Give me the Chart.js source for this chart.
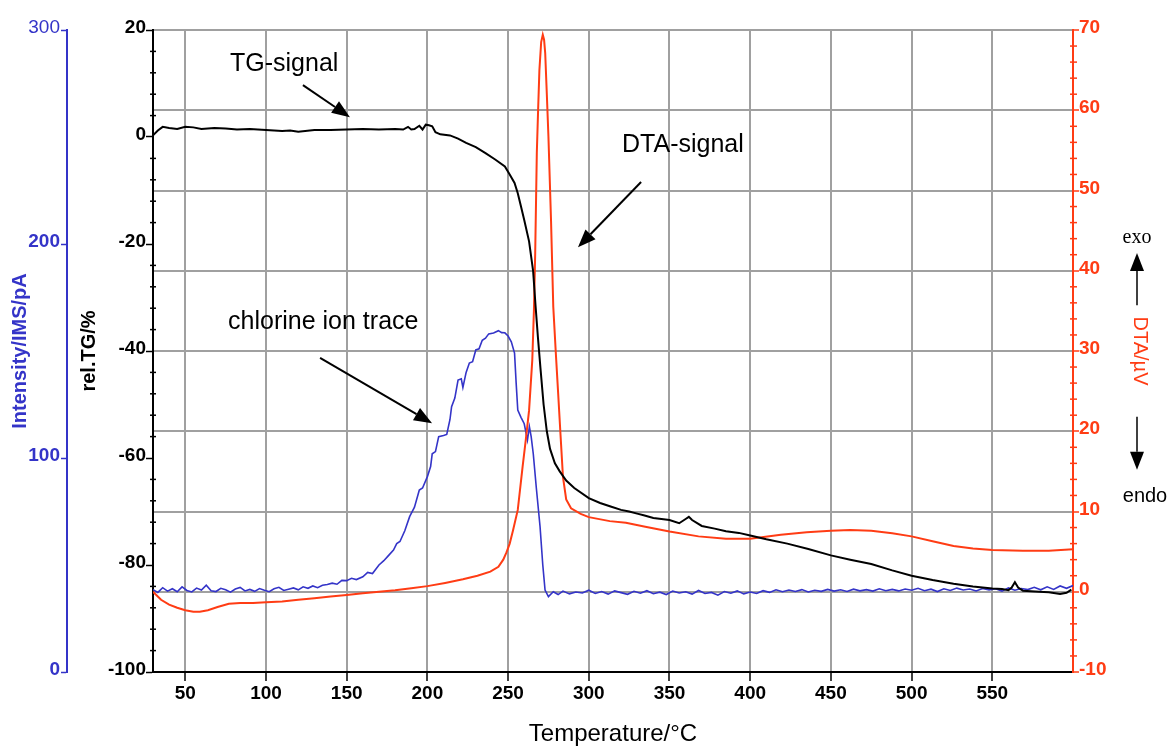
<!DOCTYPE html>
<html>
<head>
<meta charset="utf-8">
<script src="https://cdn.jsdelivr.net/npm/chart.js@4.4.0/dist/chart.umd.min.js"></script>
<style>
  body { margin: 0; background: #fff; }
  #wrap { position: relative; width: 1171px; height: 746px; }
</style>
</head>
<body>
<div id="wrap"><canvas id="taChart"></canvas></div>
<script>
// TG signal (rel.TG/%)
const tgTemp = [30, 33, 36, 40, 45, 50, 55, 60, 68, 75,
  82, 90, 100, 110, 115, 120, 130, 140, 150, 160,
  170, 180, 185, 188, 190, 192, 195, 197, 199, 201,
  203, 205, 208, 214, 219, 224, 230, 236, 242, 248,
  251, 254, 256, 258, 260, 263, 265.5, 267, 268.5, 270,
  272, 274, 276, 279, 282, 286, 291, 300, 307, 314,
  320, 325, 330, 334, 340, 345, 350, 356, 360, 362,
  364, 370, 378, 385, 393, 400, 410, 423, 436, 450,
  462, 475, 488, 500, 513, 526, 538, 550, 556, 560,
  562, 564, 566, 569, 574, 579, 585, 592, 596, 599];
const tgValue = [0.3, 1.2, 1.9, 1.7, 1.5, 1.9, 1.8, 1.5, 1.7, 1.6,
  1.4, 1.5, 1.3, 1.1, 1.2, 1.0, 1.3, 1.3, 1.4, 1.5,
  1.4, 1.5, 1.4, 1.9, 1.4, 1.5, 2.1, 1.4, 2.3, 2.2,
  2.0, 0.9, 0.5, 0.3, -0.3, -1.1, -1.9, -3.0, -4.2, -5.5,
  -7.0, -8.6, -10.5, -13, -15.5, -19.5, -25, -31.5, -37.5, -43,
  -50, -55, -58.3, -61, -62.5, -64.2, -65.6, -67.5, -68.4, -69.1,
  -69.7, -70, -70.4, -70.7, -71.2, -71.4, -71.6, -72.2, -71.4, -71.0,
  -71.6, -72.7, -73.2, -73.7, -74.0, -74.5, -75.2, -76, -77, -78.2,
  -79, -79.8, -81, -82, -82.8, -83.5, -84, -84.4, -84.5, -84.7,
  -84.2, -83.2, -84.2, -84.8, -84.9, -85.0, -85.1, -85.4, -85.2, -84.6];

// DTA signal (µV)
const dtaTemp = [30, 35, 40, 45, 50, 55, 59, 64, 70, 77,
  84, 92, 100, 110, 120, 130, 140, 150, 160, 170,
  180, 190, 200, 211, 222, 231, 239, 244, 247, 249,
  251, 253, 256, 259, 261, 263, 265, 266, 266.8, 267.8,
  268.6, 269.4, 270.5, 271.5, 272.3, 273, 274, 275, 276.6, 278,
  279.5, 281, 282.5, 284, 286, 289, 295, 300, 313, 323,
  335, 350, 368, 385, 400, 419, 435, 450, 462, 475,
  488, 500, 513, 526, 538, 550, 569, 585, 600];
const dtaValue = [0, -1.0, -1.6, -2.0, -2.3, -2.5, -2.5, -2.3, -1.9, -1.5,
  -1.4, -1.4, -1.3, -1.2, -1.0, -0.8, -0.6, -0.4, -0.2, 0.0,
  0.2, 0.45, 0.7, 1.1, 1.55, 2.0, 2.5, 3.1, 4.0, 4.9,
  6.0, 7.6, 10.2, 15.6, 19, 22.6, 28.9, 35, 42.2, 54.7,
  60, 65, 68.5, 69.4, 68.8, 67.1, 62, 56.7, 46.3, 35.5,
  30, 24.8, 19.5, 14.3, 11.5, 10.4, 9.7, 9.3, 8.8, 8.6,
  8.1, 7.5, 6.9, 6.6, 6.6, 7.1, 7.4, 7.6, 7.7, 7.6,
  7.3, 6.9, 6.3, 5.7, 5.4, 5.2, 5.1, 5.1, 5.3];

// chlorine ion trace (Intensity/IMS/pA)
const imsTemp = [30, 33, 36, 39, 42, 45, 48, 51, 54, 57,
  60, 63, 66, 69, 72, 75, 78, 81, 84, 87,
  90, 93, 96, 99, 102, 105, 108, 111, 114, 117,
  120, 123, 126, 129, 132, 135, 138,
  141, 144, 147, 150, 153, 156, 160, 163, 166, 170,
  173, 176, 179, 181, 183, 186, 189, 192, 195, 197,
  200, 202, 203, 205, 207, 210, 212, 214, 215, 217,
  219, 221, 222, 224, 226, 228, 230, 232, 234, 236,
  238, 241, 244, 246, 248, 250, 252, 254, 255, 256,
  258, 260, 262, 263.2, 264.3, 265.6, 267.5, 269.8, 271.5, 272.9,
  275, 278, 281,
  284, 288, 292, 296, 300, 304, 308, 312, 316, 320,
  324, 328, 332, 336, 340, 344, 348, 352, 356, 360,
  364, 368, 372, 376, 380, 384, 388, 392, 396, 400,
  404, 408, 412, 416, 420, 424, 428, 432, 436, 440,
  444, 448, 452, 456, 460, 464, 468, 472, 476, 480,
  484, 488, 492, 496, 500, 504, 508, 512, 516, 520,
  524, 528, 532, 536, 540, 544, 548, 552, 556, 560,
  564, 568, 572, 576, 580, 584, 588, 592, 596, 600];
const imsValue = [38.5, 37.2, 39.4, 37.8, 38.9, 37.5, 39.8, 38.1, 37.4, 39.2,
  38.3, 40.6, 38.0, 37.6, 39.1, 38.4, 37.3, 38.8, 39.5, 37.9,
  38.6, 37.7, 39.0, 38.2, 37.5, 38.9, 39.6, 38.1, 38.7, 39.3,
  38.4, 39.8, 39.1, 40.2, 39.4, 40.5, 40.9,
  41.5, 41.0, 42.8, 42.7, 43.8, 43.2, 44.5, 46.5, 46.0, 50,
  52, 54.5, 57, 60, 61, 66, 72.6, 77, 85, 86,
  91.3, 96, 102, 103, 110, 110.5, 111, 118, 124, 128,
  136.4, 137, 133, 140, 144.4, 145, 150.5, 151, 155, 156,
  158, 158.4, 159.5, 158.6, 158.5, 157, 154.3, 149, 135, 122.4,
  119, 116, 108.4, 114.6, 110, 102, 86, 68, 50, 38.3,
  35.2, 37.5, 36.2,
  37.8, 36.5, 37.4, 36.9, 38.2, 36.7, 37.6, 36.4, 37.9, 37.1,
  36.3, 37.7, 36.8, 38.0, 36.6, 37.3, 36.2, 37.8, 36.9, 37.5,
  36.4, 38.1, 36.7, 37.2, 35.9, 37.6, 36.8, 37.9, 36.5, 37.4,
  36.7, 38.0, 37.2, 38.4, 37.5, 38.3, 37.6, 38.5, 37.4, 38.2,
  37.7, 38.6, 37.8, 38.4, 37.6, 38.7, 37.9, 38.5, 37.8, 38.9,
  38.0, 38.6, 37.9, 38.8, 38.2, 39.1, 38.0, 38.7, 37.6, 38.9,
  38.1, 39.2, 38.3, 38.8, 37.9, 39.0, 38.4, 38.9, 37.8, 39.3,
  38.2, 39.0, 38.5, 39.6, 38.4, 39.8, 38.6, 40.2, 39.1, 40.4];

// tick values
const xTickValues = [50, 100, 150, 200, 250, 300, 350, 400, 450, 500, 550];
const tgTickValues = [-100, -80, -60, -40, -20, 0, 20];
const dtaTickValues = [-10, 0, 10, 20, 30, 40, 50, 60, 70];
const imsTickValues = [0, 100, 200, 300];

// text notes with arrows, in (temperature, rel.TG) units
const notes = [
  { text: 'TG-signal', x: 77.7, y: 13.6, from: [122.9, 9.7], to: [152, 3.7] },
  { text: 'DTA-signal', x: 320.6, y: -1.5, from: [332.4, -8.4], to: [293.3, -20.6] },
  { text: 'chlorine ion trace', x: 76.5, y: -34.6, from: [133.5, -41.3], to: [202.9, -53.5] }
];

const BLUE = '#3434c8';
const RED = '#ff3c14';
const GRID = '#a0a0a0';

Chart.defaults.font.family = 'Arial, "Liberation Sans", sans-serif';

function toPoints(xs, ys) {
  return xs.map((t, i) => ({ x: t, y: ys[i] }));
}

function fixedTicks(values) {
  return scale => { scale.ticks = values.map(v => ({ value: v })); };
}

function drawArrow(ctx, x1, y1, x2, y2) {
  const ang = Math.atan2(y2 - y1, x2 - x1);
  const len = 18, half = 7;
  const bx = x2 - len * Math.cos(ang), by = y2 - len * Math.sin(ang);
  ctx.beginPath();
  ctx.moveTo(x1, y1);
  ctx.lineTo(bx, by);
  ctx.stroke();
  ctx.beginPath();
  ctx.moveTo(x2, y2);
  ctx.lineTo(bx + half * Math.sin(ang), by - half * Math.cos(ang));
  ctx.lineTo(bx - half * Math.sin(ang), by + half * Math.cos(ang));
  ctx.closePath();
  ctx.fill();
}

// small ticks crossing the TG and DTA axis lines
const minorTicks = {
  id: 'minorTicks',
  afterDraw(chart) {
    const ctx = chart.ctx;
    const tg = chart.scales.yTG, dta = chart.scales.yDTA;
    ctx.save();
    ctx.lineWidth = 1.5;
    ctx.strokeStyle = '#000';
    for (let v = tg.min; v <= tg.max; v += 4) {
      if (v % 20 === 0) continue;
      const y = tg.getPixelForValue(v);
      ctx.beginPath(); ctx.moveTo(tg.right - 3, y); ctx.lineTo(tg.right + 3, y); ctx.stroke();
    }
    ctx.strokeStyle = RED;
    for (let v = dta.min; v <= dta.max; v += 2) {
      if (v % 10 === 0) continue;
      const y = dta.getPixelForValue(v);
      ctx.beginPath(); ctx.moveTo(dta.left - 3, y); ctx.lineTo(dta.left + 4, y); ctx.stroke();
    }
    ctx.restore();
  }
};

// labels and arrows
const annotations = {
  id: 'annotations',
  afterDraw(chart) {
    const ctx = chart.ctx;
    const xs = chart.scales.x, ys = chart.scales.yTG, ds = chart.scales.yDTA;
    ctx.save();
    ctx.fillStyle = '#000';
    ctx.strokeStyle = '#000';
    ctx.lineWidth = 2;
    ctx.font = '25px Arial, "Liberation Sans", sans-serif';
    ctx.textBaseline = 'middle';
    ctx.textAlign = 'left';
    notes.forEach(n => {
      ctx.fillText(n.text, xs.getPixelForValue(n.x), ys.getPixelForValue(n.y));
      drawArrow(ctx,
        xs.getPixelForValue(n.from[0]), ys.getPixelForValue(n.from[1]),
        xs.getPixelForValue(n.to[0]), ys.getPixelForValue(n.to[1]));
    });

    // exo / endo marker beside the DTA axis
    const ax = chart.chartArea.right + 64;
    ctx.textAlign = 'center';
    ctx.font = '20px "Times New Roman", "Liberation Serif", serif';
    ctx.fillText('exo', ax, ds.getPixelForValue(44.1));
    ctx.font = '20px Arial, "Liberation Sans", sans-serif';
    ctx.fillText('endo', ax + 8, ds.getPixelForValue(11.9));
    ctx.lineWidth = 1.5;
    drawArrow(ctx, ax, ds.getPixelForValue(35.7), ax, ds.getPixelForValue(42.2));
    drawArrow(ctx, ax, ds.getPixelForValue(21.8), ax, ds.getPixelForValue(15.2));
    ctx.restore();
  }
};

const ctx = document.getElementById('taChart').getContext('2d');

new Chart(ctx, {
  type: 'line',
  data: {
    datasets: [
      {
        label: 'TG-signal',
        data: toPoints(tgTemp, tgValue),
        yAxisID: 'yTG',
        borderColor: '#000',
        borderWidth: 2
      },
      {
        label: 'DTA-signal',
        data: toPoints(dtaTemp, dtaValue),
        yAxisID: 'yDTA',
        borderColor: RED,
        borderWidth: 2
      },
      {
        label: 'chlorine ion trace',
        data: toPoints(imsTemp, imsValue),
        yAxisID: 'yIMS',
        borderColor: BLUE,
        borderWidth: 1.6
      }
    ]
  },
  options: {
    responsive: true,
    maintainAspectRatio: false,
    animation: false,
    layout: { padding: { top: 30, left: 0, right: 0, bottom: 0 } },
    elements: { point: { radius: 0 }, line: { tension: 0 } },
    plugins: { legend: { display: false }, tooltip: { enabled: false } },
    scales: {
      x: {
        type: 'linear',
        position: 'bottom',
        min: 30,
        max: 600,
        afterBuildTicks: fixedTicks(xTickValues),
        afterFit: s => { s.height = 74; },
        grid: { color: GRID, lineWidth: 2, tickColor: '#000', tickLength: 9, tickWidth: 1.5 },
        border: { color: '#000', width: 2 },
        ticks: { color: '#000', font: { size: 19, weight: 'bold' }, padding: 1, maxRotation: 0, autoSkip: false },
        title: { display: true, text: 'Temperature/°C', color: '#000', font: { size: 24, lineHeight: 1 }, padding: 0 }
      },
      yTG: {
        type: 'linear',
        position: 'left',
        weight: 0,
        min: -100,
        max: 20,
        afterBuildTicks: fixedTicks(tgTickValues),
        afterFit: s => { s.width = 86; },
        grid: { drawOnChartArea: false, tickColor: '#000', tickLength: 7, tickWidth: 1.5 },
        border: { color: '#000', width: 2 },
        ticks: { color: '#000', font: { size: 19, weight: 'bold' }, padding: 0, labelOffset: -2 },
        title: { display: true, text: 'rel.TG/%', color: '#000', font: { size: 20, weight: 'bold', lineHeight: 1 }, padding: { top: 12, bottom: 0 } }
      },
      yIMS: {
        type: 'linear',
        position: 'left',
        weight: 1,
        min: 0,
        max: 300,
        afterBuildTicks: fixedTicks(imsTickValues),
        afterFit: s => { s.width = 67; },
        grid: { drawOnChartArea: false, tickColor: BLUE, tickLength: 6, tickWidth: 1.5 },
        border: { color: BLUE, width: 2 },
        ticks: {
          color: BLUE,
          padding: 1,
          labelOffset: -2,
          font: c => ({ size: 19, weight: c.tick && c.tick.value === 300 ? 'normal' : 'bold' })
        },
        title: { display: true, text: 'Intensity/IMS/pA', color: BLUE, font: { size: 20, weight: 'bold', lineHeight: 1 }, padding: { top: 10, bottom: 0 } }
      },
      yDTA: {
        type: 'linear',
        position: 'right',
        min: -10,
        max: 70,
        afterBuildTicks: fixedTicks(dtaTickValues),
        afterFit: s => { s.width = 98; },
        grid: {
          color: c => (c.tick && c.tick.value === -10 ? 'rgba(0,0,0,0)' : GRID),
          lineWidth: 2,
          tickColor: RED,
          tickLength: 6,
          tickWidth: 1.5
        },
        border: { color: RED, width: 2 },
        ticks: { color: RED, font: { size: 19, weight: 'bold' }, padding: 0, labelOffset: -2 },
        title: { display: true, text: 'DTA/µV', color: RED, font: { size: 20, lineHeight: 1 }, padding: { top: 21, bottom: 0 } }
      }
    }
  },
  plugins: [minorTicks, annotations]
});
</script>
</body>
</html>
